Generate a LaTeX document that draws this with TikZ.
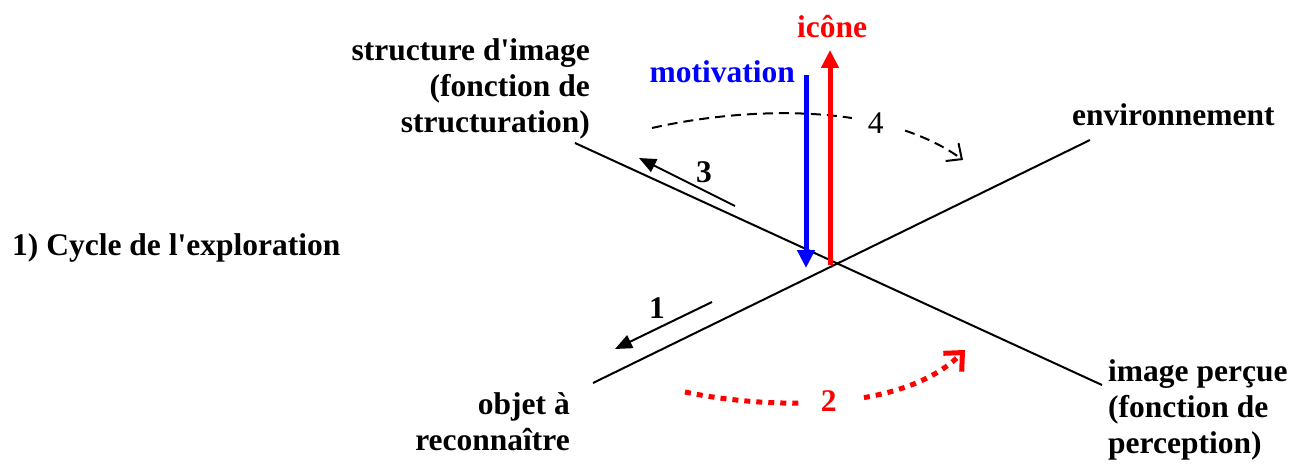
\documentclass[tikz,border=0pt]{standalone}
\usepackage{fontspec}
\setmainfont{Liberation Serif}
\usepackage{xcolor}
\usetikzlibrary{arrows.meta, positioning}

\begin{document}
\begin{tikzpicture}[
            x=1pt, y=-1pt,
            % Styles des textes et des flèches
            label/.style={font=\bfseries\fontsize{31.5}{36}\selectfont, inner sep=0pt},
            axe/.style={line width=2pt, draw=black},
            pas/.style={line width=2pt, -{Triangle[length=17pt, width=14pt]}},
            fort/.style={line width=5pt, -{Triangle[length=18pt, width=17pt]}},
            tour/.style={line width=2pt, dash pattern=on 10pt off 6pt, -{Straight Barb[length=12pt, width=22pt]}},
            retour/.style={line width=5pt, red, dash pattern=on 6pt off 6pt, -{Straight Barb[length=14pt, width=26pt]}}
            ]
            \useasboundingbox (0,0) rectangle (1290,468);

            % Points des axes
            \coordinate (centre) at (832,265);
            \coordinate (structure) at (575,143);
            \coordinate (percue) at (1102,385);
            \coordinate (objet) at (593,383);
            \coordinate (environ) at (1090,140);

            % Textes
            \node (titre) [label, anchor=base west] at (12,255) {1) Cycle de l\textquotesingle exploration};
            \node (lstructure) [label, anchor=base east, align=right] at (590,133) {structure d\textquotesingle image\\(fonction de\\structuration)};
            \node (lenviron) [label, anchor=base west] at (1072,125) {environnement};
            \node (lpercue) [label, anchor=base west, align=left] at (1108,453) {image perçue\\(fonction de\\perception)};
            \node (lobjet) [label, anchor=base east, align=right] at (570,450) {objet à\\reconnaître};
            \node (lmotiv) [label, blue, anchor=base east] at (795,83) {motivation};
            \node (licone) [label, red, anchor=base] at (832,38) {icône};

            % Axes
            \draw [axe] (structure) -- (percue);
            \draw [axe] (objet) -- (environ);

            % Flèches 1 et 3
            \coordinate (un-a) at (712,302);
            \coordinate (un-b) at (615,349);
            \coordinate (trois-a) at (735,206);
            \coordinate (trois-b) at (639,158);
            \draw [pas] (un-a) -- (un-b);
            \draw [pas] (trois-a) -- (trois-b);
            \node (n1) [label, anchor=base] at (657,318) {1};
            \node (n3) [label, anchor=base] at (704,182) {3};

            % Arc 4 (pointillé noir)
            \coordinate (quatre-a) at (652,128);
            \coordinate (quatre-b) at (963,160);
            \draw [tour] (quatre-a) .. controls (740,108) and (880,100) .. node[pos=0.7, fill=white, inner xsep=16pt, inner ysep=0pt, font=\fontsize{31.5}{36}\selectfont] {4} (quatre-b);

            % Arc 2 (pointillé rouge)
            \coordinate (deux-a) at (685,392);
            \coordinate (deux-b) at (965,350);
            \draw [retour] (deux-a) .. controls (760,408) and (900,415) .. node[label, pos=0.5, fill=white, inner xsep=22pt, inner ysep=0pt, text=red] {2} (deux-b);

            % Motivation et icône
            \coordinate (motiv-a) at (806,75);
            \coordinate (motiv-b) at (806,268);
            \coordinate (icone-a) at (830,265);
            \coordinate (icone-b) at (830,50);
            \draw [fort, blue] (motiv-a) -- (motiv-b);
            \draw [fort, red] (icone-a) -- (icone-b);

        \end{tikzpicture}
\end{document}
